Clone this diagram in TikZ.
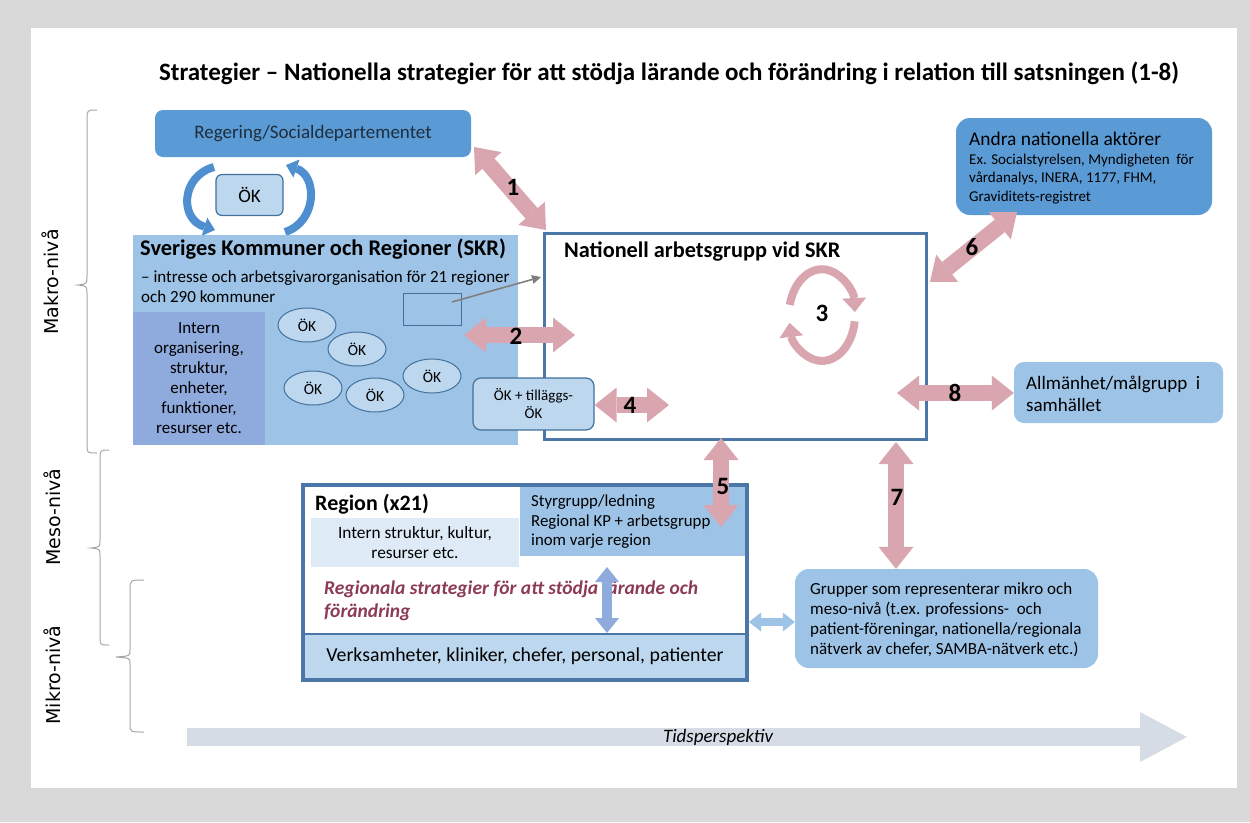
\documentclass[tikz,border=0pt]{standalone}
\usepackage{fontspec}
\setmainfont{Carlito}
\newfontfamily\sidefont{DejaVu Sans}
\usetikzlibrary{arrows.meta,shapes.geometric}
\definecolor{medblue}{HTML}{5B9BD5}
\definecolor{ltblue}{HTML}{9DC3E6}
\definecolor{paleblue}{HTML}{BDD7EE}
\definecolor{vpale}{HTML}{DEEBF7}
\definecolor{purpblue}{HTML}{8FAADC}
\definecolor{edgeblue}{HTML}{41719C}
\definecolor{frameblue}{HTML}{4A76A8}
\definecolor{pinkc}{HTML}{D9A6AF}
\definecolor{bggray}{HTML}{D9D9D9}
\definecolor{timec}{HTML}{D6DCE5}
\definecolor{maroonc}{HTML}{8C3B55}
\definecolor{bracec}{HTML}{A6A6A6}
\definecolor{curveblue}{HTML}{4F8FCF}
\definecolor{textdark}{HTML}{1F2D3D}
\definecolor{arrgray}{HTML}{7F7F7F}
\begin{document}
\begin{tikzpicture}[x=1pt,y=-1pt,
  plain/.style={inner sep=0pt},
  pinkarrow/.style={draw=pinkc, line width=16pt,
    {Triangle[width=35pt,length=22pt,line width=0pt]}-{Triangle[width=35pt,length=22pt,line width=0pt]}},
  pinkloop/.style={draw=pinkc, line width=8pt, -{Triangle[width=24pt,length=14pt,line width=0pt]}},
  bluecurve/.style={draw=curveblue, line width=8pt, -{Triangle[width=19pt,length=11pt,line width=0pt]}},
  numlabel/.style={font=\fontsize{25}{28}\selectfont\bfseries, inner sep=0pt},
  bracestyle/.style={draw=bracec, line width=1pt},
  okell/.style={ellipse, draw=edgeblue, line width=1pt, fill=paleblue, minimum width=58pt, minimum height=34pt, inner sep=0pt, font=\fontsize{15.5}{18}\selectfont},
  sidelabel/.style={rotate=90, font=\sidefont\fontsize{19}{22}\selectfont}
]
\useasboundingbox (0,0) rectangle (1250,822);
\fill[bggray] (0,0) rectangle (1250,822);
\fill[white] (31,28) rectangle (1237,788);

% title
\node[font=\fontsize{25}{29}\selectfont\bfseries] (title) at (669,73) {Strategier – Nationella strategier för att stödja lärande och förändring i relation till satsningen (1-8)};

% side labels and braces
\node[sidelabel] (makro) at (50,282) {Makro-nivå};
\node[sidelabel] (meso) at (52,517) {Meso-nivå};
\node[sidelabel] (mikro) at (52,675) {Mikro-nivå};
\draw[bracestyle] (97,110) .. controls (87,110) .. (87,120) -- (87,276) .. controls (87,284) .. (78,285) .. controls (87,286) .. (87,294) -- (87,445) .. controls (87,453) .. (97,453);
\draw[bracestyle] (109,450) .. controls (100,450) .. (100,460) -- (100,540) .. controls (100,547) .. (91,548) .. controls (100,549) .. (100,556) -- (100,637) .. controls (100,645) .. (109,645);
\draw[bracestyle] (144,580) .. controls (130,580) .. (130,590) -- (130,650) .. controls (130,656) .. (116,657) .. controls (130,658) .. (130,664) -- (130,724) .. controls (130,732) .. (144,732);

% Regering
\node[fill=medblue, rounded corners=8pt, minimum width=316pt, minimum height=47pt, inner sep=0pt, text=textdark, font=\fontsize{19}{22}\selectfont] (reg) at (313,133.5) {Regering/Socialdepartementet};

% OK top with curved arrows
\node[fill=paleblue, draw=edgeblue, line width=1.2pt, rounded corners=6pt, minimum width=67pt, minimum height=41pt, inner sep=0pt, font=\fontsize{19}{22}\selectfont] (oktop) at (249.5,195) {ÖK};
\coordinate (cl1) at (214,167);
\coordinate (cl2) at (215,230);
\coordinate (cr1) at (285,232);
\coordinate (cr2) at (286,165);
\draw[bluecurve] (cl1) .. controls (181,176) and (179,219) .. (cl2);
\draw[bluecurve] (cr1) .. controls (317,222) and (318,176) .. (cr2);

% SKR
\node[fill=ltblue, minimum width=385pt, minimum height=210pt, inner sep=0pt] (skr) at (325.5,340) {};
\node[anchor=west, plain, font=\fontsize{22.4}{26}\selectfont\bfseries] (skrtitle) at (140,249) {Sveriges Kommuner och Regioner (SKR)};
\node[anchor=west, plain, align=left, font=\fontsize{17}{20}\selectfont] (skrsub) at (141,287) {– intresse och arbetsgivarorganisation för 21 regioner\\och 290 kommuner};
\node[fill=purpblue, minimum width=132pt, minimum height=133pt, inner sep=0pt, align=center, font=\fontsize{17}{20}\selectfont] (intern) at (199,378.5) {Intern\\organisering,\\struktur,\\enheter,\\funktioner,\\resurser etc.};
\node[draw=edgeblue, line width=1pt, minimum width=58pt, minimum height=32pt, inner sep=0pt] (smallrect) at (432,309) {};
\node[okell] (e1) at (307,325) {ÖK};
\node[okell] (e2) at (357,349) {ÖK};
\node[okell] (e3) at (313,388) {ÖK};
\node[okell] (e4) at (375,395) {ÖK};
\node[okell] (e5) at (432,376) {ÖK};

% Nationell
\node[draw=frameblue, line width=3pt, fill=white, minimum width=382pt, minimum height=206pt, inner sep=0pt] (nat) at (735,336) {};
\node[anchor=west, plain, font=\fontsize{22.3}{26}\selectfont\bfseries] (nattitle) at (564,252) {Nationell arbetsgrupp vid SKR};
\node[fill=paleblue, draw=edgeblue, line width=1.2pt, rounded corners=8pt, minimum width=121pt, minimum height=52pt, inner sep=0pt, align=center, font=\fontsize{15}{18}\selectfont] (oktill) at (533.5,404) {ÖK + tilläggs-\\ÖK};

% loop 3
\coordinate (lp1) at (789.8,304.9);
\coordinate (lp2) at (854.7,321.3);
\draw[pinkloop] (lp1) arc[start angle=167, end angle=4, x radius=33pt, y radius=46pt];
\draw[pinkloop] (lp2) arc[start angle=-8, end angle=-170, x radius=33pt, y radius=46pt];
\node[numlabel] (l3) at (822,313) {3};

% gray arrow
\coordinate (g1) at (452,302);
\coordinate (g2) at (541,277);
\draw[arrgray, line width=1.6pt, -{Triangle[width=9pt,length=9pt,line width=0pt]}] (g1) -- (g2);

% Andra
\node[fill=medblue, rounded corners=14pt, minimum width=256pt, minimum height=97pt, inner sep=0pt] (andra) at (1084,166.5) {};
\node[anchor=west, plain, font=\fontsize{19.4}{22}\selectfont] (andratitle) at (969,139) {Andra nationella aktörer};
\node[anchor=west, plain, align=left, font=\fontsize{15}{18.5}\selectfont] (andratext) at (969,179) {Ex. Socialstyrelsen, Myndigheten~ för\\vårdanalys, INERA, 1177, FHM,\\Graviditets-registret};

% Allmanhet
\node[fill=ltblue, rounded corners=10pt, minimum width=209pt, minimum height=61pt, inner sep=0pt] (allm) at (1118.5,392.5) {};
\node[anchor=west, plain, align=left, font=\fontsize{19}{22}\selectfont] (allmtext) at (1026,394) {Allmänhet/målgrupp~ i\\samhället};

% Region
\node[draw=frameblue, line width=4pt, fill=white, minimum width=444pt, minimum height=195pt, inner sep=0pt] (region) at (525,582.5) {};
\node[fill=vpale, minimum width=208pt, minimum height=49pt, inner sep=0pt, align=center, font=\fontsize{17.3}{20}\selectfont] (intstr) at (415,542.5) {Intern struktur, kultur,\\resurser etc.};
\node[fill=ltblue, minimum width=225pt, minimum height=69pt, inner sep=0pt] (styr) at (632.5,521.5) {};
\node[anchor=west, plain, align=left, font=\fontsize{16.8}{19.5}\selectfont] (styrtext) at (531,522) {Styrgrupp/ledning\\Regional KP + arbetsgrupp\\inom varje region};
\node[anchor=west, plain, font=\fontsize{22}{25}\selectfont\bfseries] (regtitle) at (315,504) {Region (x21)};
\node[anchor=west, plain, align=left, text=maroonc, font=\fontsize{19.5}{23}\selectfont\bfseries\itshape] (regstrat) at (324,601) {Regionala strategier för att stödja lärande och\\förändring};
\node[fill=paleblue, minimum width=440pt, minimum height=44pt, inner sep=0pt, font=\fontsize{19.8}{22}\selectfont] (verks) at (525,656) {Verksamheter, kliniker, chefer, personal, patienter};
\draw[frameblue, line width=2pt] (verks.north west) -- (verks.north east);
\coordinate (bv1) at (607,567);
\coordinate (bv2) at (607,633);
\draw[draw=purpblue, line width=10pt, {Triangle[width=24pt,length=15pt,line width=0pt]}-{Triangle[width=24pt,length=15pt,line width=0pt]}] (bv1) -- (bv2);

% Grupper
\node[fill=ltblue, rounded corners=14pt, minimum width=303pt, minimum height=99pt, inner sep=0pt] (grupper) at (946.5,618.5) {};
\node[anchor=west, plain, align=left, font=\fontsize{17}{20}\selectfont] (gruppertext) at (810,620) {Grupper som representerar mikro och\\meso-nivå (t.ex. professions-~ och\\patient-föreningar, nationella/regionala\\nätverk av chefer, SAMBA-nätverk etc.)};
\coordinate (bh1) at (749,622);
\draw[draw=ltblue, line width=8pt, {Triangle[width=19pt,length=12pt,line width=0pt]}-{Triangle[width=19pt,length=12pt,line width=0pt]}] (bh1) -- (bh1 -| grupper.west);

% pink arrows
\coordinate (p1a) at (474,147);
\coordinate (p1b) at (546,230);
\draw[pinkarrow] (p1a) -- (p1b);
\coordinate (p2a) at (464,335);
\coordinate (p2b) at (575,335);
\draw[pinkarrow] (p2a) -- (p2b);
\coordinate (p4b) at (669,405);
\draw[pinkarrow] (oktill.east |- p4b) -- (p4b);
\coordinate (p5a) at (721,438);
\coordinate (p5b) at (721,527);
\draw[pinkarrow] (p5a) -- (p5b);
\coordinate (p6a) at (930,282);
\coordinate (p6b) at (1017,212);
\draw[pinkarrow] (p6a) -- (p6b);
\coordinate (p7a) at (896,442);
\draw[pinkarrow] (p7a) -- (p7a |- grupper.north);
\coordinate (p8a) at (897,393);
\draw[pinkarrow] (p8a) -- (p8a -| allm.west);

\node[numlabel] (l1) at (513,187) {1};
\node[numlabel] (l2) at (516,336) {2};
\node[numlabel] (l4) at (630,405) {4};
\node[numlabel] (l5) at (723,486) {5};
\node[numlabel] (l6) at (972,247) {6};
\node[numlabel] (l7) at (897,497) {7};
\node[numlabel] (l8) at (955,393) {8};

% timeline
\coordinate (t1) at (187,737);
\coordinate (t2) at (1187,737);
\draw[draw=timec, line width=18pt, -{Triangle[width=50pt,length=47pt,line width=0pt]}] (t1) -- (t2);
\node[font=\fontsize{19}{22}\selectfont\itshape] (tids) at (718,737) {Tidsperspektiv};
\end{tikzpicture}
\end{document}
